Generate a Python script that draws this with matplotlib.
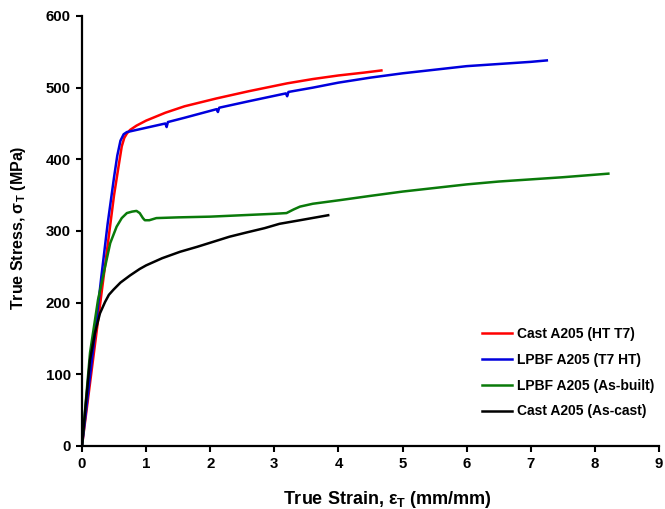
import numpy as np
import matplotlib.pyplot as plt

plt.rcParams['font.family'] = 'Liberation Sans'
plt.rcParams['font.weight'] = 'bold'
plt.rcParams['mathtext.fontset'] = 'custom'
plt.rcParams['mathtext.rm'] = 'Liberation Sans:bold'
plt.rcParams['mathtext.bf'] = 'Liberation Sans:bold'

#true strain (mm/mm) and true stress (MPa)
cast_t7_strain = [0, 0.1, 0.2, 0.3, 0.4, 0.5, 0.57, 0.62, 0.66, 0.7, 0.75, 0.85, 1.0, 1.3, 1.6, 2.1, 2.6, 3.2,
                  3.6, 4.0, 4.4, 4.67]
cast_t7_stress = [0, 70, 140, 210, 280, 350, 390, 418, 430, 436, 441, 447, 454, 465, 474, 485, 495, 506,
                  512, 517, 521, 524]

lpbf_t7_strain = [0, 0.1, 0.2, 0.3, 0.4, 0.5, 0.55, 0.6, 0.65, 0.7, 0.8, 1.0, 1.3, 1.32, 1.34, 1.6, 2.1, 2.12,
                  2.14, 2.6, 3.18, 3.2, 3.22, 3.6, 4.0, 4.5, 5.0, 5.5, 6.0, 6.5, 7.0, 7.25]
lpbf_t7_stress = [0, 78, 155, 235, 310, 375, 405, 426, 435, 438, 440, 444, 450, 445, 452, 458, 470, 466,
                  472, 481, 492, 488, 494, 500, 507, 514, 520, 525, 530, 533, 536, 538]

lpbf_ab_strain = [0, 0.125, 0.25, 0.36, 0.44, 0.54, 0.62, 0.7, 0.78, 0.85, 0.9, 0.95, 0.98, 1.05, 1.16, 1.5,
                  2.0, 2.5, 3.0, 3.19, 3.3, 3.4, 3.6, 4.02, 4.5, 5.0, 5.5, 6.0, 6.5, 7.0, 7.5, 8.21]
lpbf_ab_stress = [0, 130, 204, 250, 283, 306, 318, 325, 327, 328, 325, 318, 315, 315, 318, 319,
                  320, 322, 324, 325, 330, 334, 338, 343, 349, 355, 360, 365, 369, 372, 375, 380]

cast_ac_strain = [0, 0.06, 0.125, 0.2, 0.28, 0.36, 0.42, 0.49, 0.6, 0.75, 0.9, 1.0, 1.25, 1.53, 1.8, 2.05,
                  2.3, 2.57, 2.85, 3.08, 3.4, 3.84]
cast_ac_stress = [0, 60, 120, 157, 185, 201, 211, 218, 228, 238, 247, 252, 262, 271, 278, 285,
                  292, 298, 304, 310, 315, 322]

labels = ['Cast A205 (HT T7)', 'LPBF A205 (T7 HT)', 'LPBF A205 (As-built)', 'Cast A205 (As-cast)']

fig = plt.figure(figsize=(6.65, 5.09), dpi=100)
ax = fig.add_axes([0.1233, 0.1238, 0.8677, 0.8448])

ax.plot(cast_t7_strain, cast_t7_stress, color='#ff0000', lw=1.8, label=labels[0])
ax.plot(lpbf_t7_strain, lpbf_t7_stress, color='#0000dd', lw=1.8, label=labels[1])
ax.plot(lpbf_ab_strain, lpbf_ab_stress, color='#0a7a0a', lw=1.8, label=labels[2])
ax.plot(cast_ac_strain, cast_ac_stress, color='black', lw=1.8, label=labels[3])

ax.set_xlim(0, 9)
ax.set_ylim(0, 600)
ax.set_xticks(range(0, 10))
ax.set_yticks(range(0, 700, 100))
for s in ['top', 'right']:
    ax.spines[s].set_visible(False)
for s in ['left', 'bottom']:
    ax.spines[s].set_linewidth(1.6)
ax.tick_params(direction='out', length=4, width=1.5, labelsize=10.8, pad=4)

ax.set_xlabel(r'True Strain, ε$_\mathbf{T}$ (mm/mm)', fontsize=13, fontweight='bold')
ax.set_ylabel(r'True Stress, σ$_\mathbf{T}$ (MPa)', fontsize=11.5, fontweight='bold')
ax.xaxis.set_label_coords(0.529, -0.1)
ax.yaxis.set_label_coords(-0.094, 0.508)

ax.legend(loc='lower right', bbox_to_anchor=(1.013, 0.035), frameon=False, fontsize=10,
          handlelength=2.2, handletextpad=0.3, labelspacing=0.85)

plt.savefig('out.png', dpi=100)
